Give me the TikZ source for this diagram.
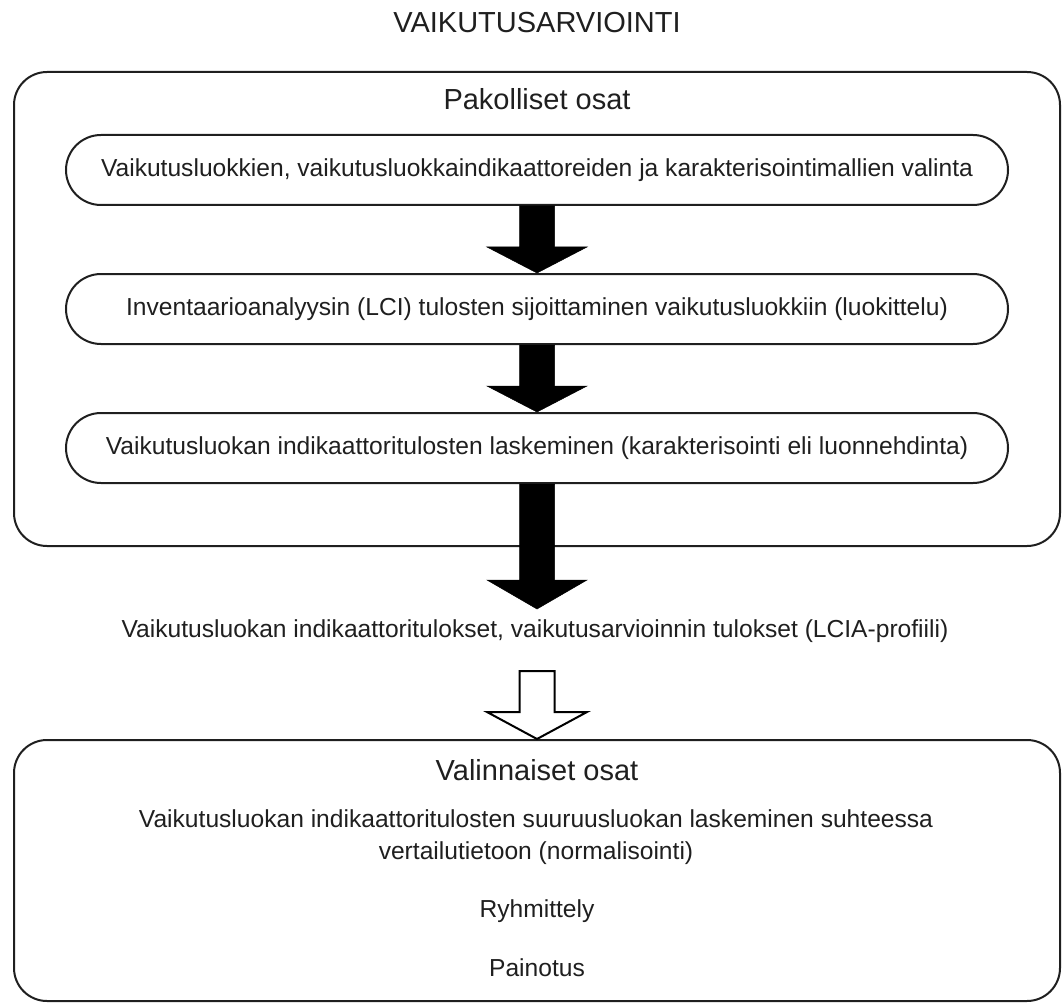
\documentclass[tikz,border=0pt]{standalone}
\usepackage{fontspec}
\setmainfont{Liberation Sans}
\usetikzlibrary{calc}
\definecolor{ink}{gray}{0.12}
\begin{document}
\begin{tikzpicture}[x=1pt,y=-1pt,
  frame/.style={draw=ink, line width=2pt, rounded corners=33pt, inner sep=0pt,
    minimum width=1046pt},
  stadium/.style={draw=ink, line width=2pt, rounded corners=35pt, inner sep=0pt,
    minimum width=942pt, minimum height=70pt, text=ink,
    font=\fontsize{24.6}{29}\selectfont},
  heading/.style={font=\fontsize{29}{34}\selectfont, text=ink, inner sep=0pt, anchor=base},
  body/.style={font=\fontsize{24.6}{29}\selectfont, text=ink, inner sep=0pt, anchor=base},
  solidarrow/.style={fill=black, draw=black, line width=0.5pt, line join=miter},
  hollowarrow/.style={fill=white, draw=black, line width=2pt, line join=miter}]
\useasboundingbox (0,0) rectangle (1063,1003);

% title
\node[heading] (title) at (537,33) {VAIKUTUSARVIOINTI};

% mandatory part
\node[frame, minimum height=474pt] (pak) at (537,309) {};
\node[heading] (pakh) at (537,110) {Pakolliset osat};
\node[stadium] (s1) at (537,170) {Vaikutusluokkien, vaikutusluokkaindikaattoreiden ja karakterisointimallien valinta};
\node[stadium] (s2) at (537,309) {Inventaarioanalyysin (LCI) tulosten sijoittaminen vaikutusluokkiin (luokittelu)};
\node[stadium] (s3) at (537,448) {Vaikutusluokan indikaattoritulosten laskeminen (karakterisointi eli luonnehdinta)};

% result line
\node[body] (res) at (535,637) {Vaikutusluokan indikaattoritulokset, vaikutusarvioinnin tulokset (LCIA-profiili)};
\coordinate (tip3) at (537,609);
\coordinate (top4) at (537,671);

% optional part
\node[frame, minimum height=261pt] (val) at (537,870.5) {};
\node[heading] (valh) at (537,780) {Valinnaiset osat};
\node[body] (norm1) at (536,827) {Vaikutusluokan indikaattoritulosten suuruusluokan laskeminen suhteessa};
\node[body] (norm2) at (536,859) {vertailutietoon (normalisointi)};
\node[body] (ryh) at (537,917) {Ryhmittely};
\node[body] (pain) at (537,976) {Painotus};

% block arrows between the steps
\draw[solidarrow] ($(s1.south)+(-17.5,0)$) -- ($(s1.south)+(-17.5,41)$)
  -- ($(s1.south)+(-50,41)$) -- (s2.north) -- ($(s1.south)+(50,41)$)
  -- ($(s1.south)+(17.5,41)$) -- ($(s1.south)+(17.5,0)$) -- cycle;
\draw[solidarrow] ($(s2.south)+(-17.5,0)$) -- ($(s2.south)+(-17.5,41)$)
  -- ($(s2.south)+(-50,41)$) -- (s3.north) -- ($(s2.south)+(50,41)$)
  -- ($(s2.south)+(17.5,41)$) -- ($(s2.south)+(17.5,0)$) -- cycle;
\draw[solidarrow] ($(s3.south)+(-17.5,0)$) -- ($(tip3)+(-17.5,-29)$)
  -- ($(tip3)+(-50,-29)$) -- (tip3) -- ($(tip3)+(50,-29)$)
  -- ($(tip3)+(17.5,-29)$) -- ($(s3.south)+(17.5,0)$) -- cycle;
\draw[hollowarrow] ($(top4)+(-17.5,0)$) -- ($(top4)+(-17.5,41)$)
  -- ($(top4)+(-50,41)$) -- (val.north) -- ($(top4)+(50,41)$)
  -- ($(top4)+(17.5,41)$) -- ($(top4)+(17.5,0)$) -- cycle;
\end{tikzpicture}
\end{document}
